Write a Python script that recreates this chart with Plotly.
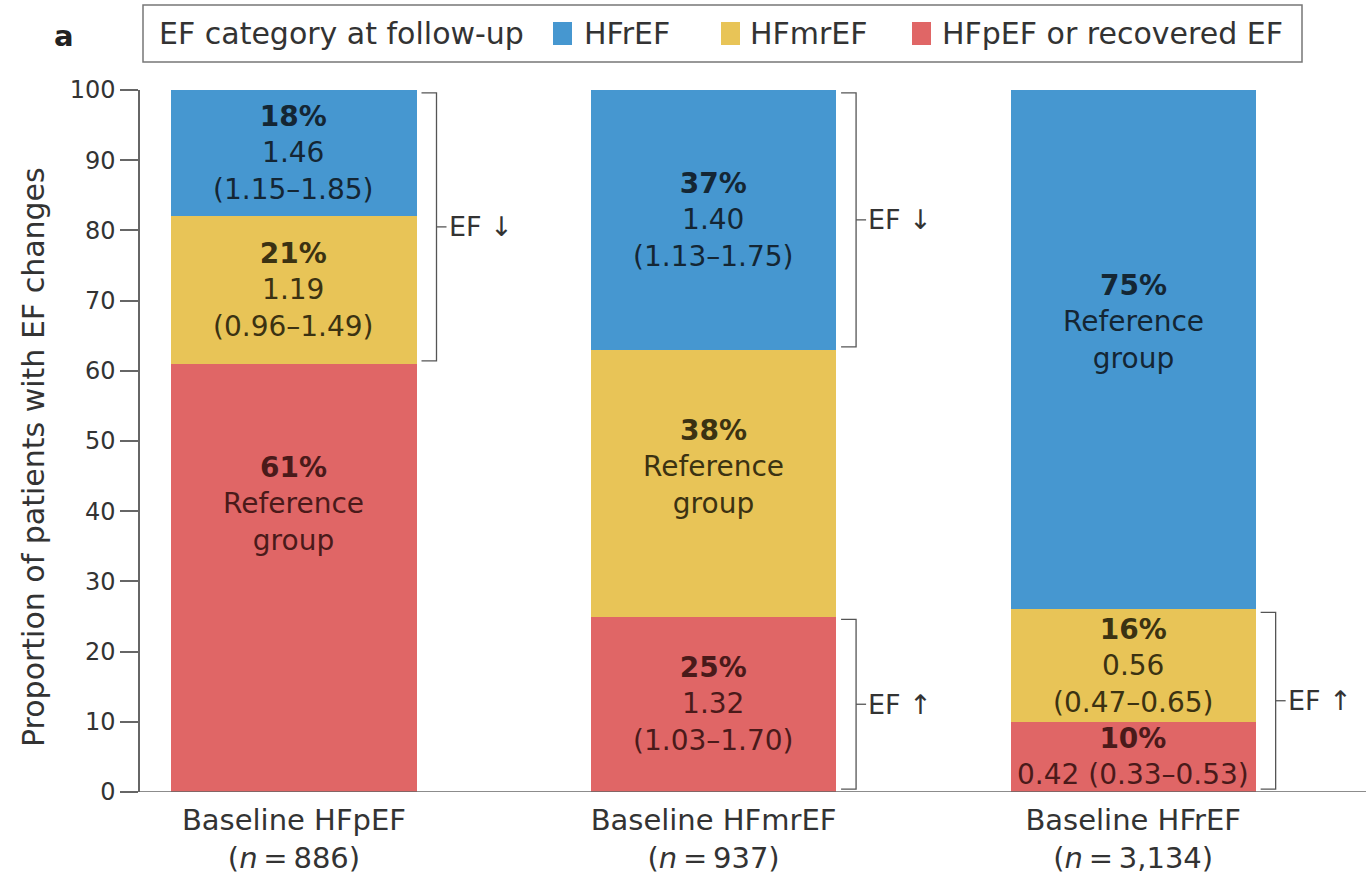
import plotly.graph_objects as go

# ---------------- data ----------------
categories = ["Baseline HFpEF<br>(<i>n</i>\u2009=\u2009886)",
              "Baseline HFmrEF<br>(<i>n</i>\u2009=\u2009937)",
              "Baseline HFrEF<br>(<i>n</i>\u2009=\u20093,134)"]
series_names = ["HFpEF or recovered EF", "HFmrEF", "HFrEF"]   # bottom -> top
red_vals = [61, 25, 10]
yellow_vals = [21, 38, 16]
blue_vals = [18, 37, 74]
red_pct = ["61%", "25%", "10%"]
yellow_pct = ["21%", "38%", "16%"]
blue_pct = ["18%", "37%", "75%"]
red_hr = ["Reference<br>group", "1.32<br>(1.03–1.70)", "0.42 (0.33–0.53)"]
yellow_hr = ["1.19<br>(0.96–1.49)", "Reference<br>group", "0.56<br>(0.47–0.65)"]
blue_hr = ["1.46<br>(1.15–1.85)", "1.40<br>(1.13–1.75)", "Reference<br>group"]
y_ticks = [0, 10, 20, 30, 40, 50, 60, 70, 80, 90, 100]
y_title = "Proportion of patients with EF changes"
legend_title = "EF category at follow-up"
# brackets: (bar index, first segment, last segment, label)
brackets = [(0, 1, 2, "EF ↓"), (1, 2, 2, "EF ↓"), (1, 0, 0, "EF ↑"), (2, 0, 1, "EF ↑")]

# ---------------- style ----------------
FONT = "DejaVu Sans"
colors = ["#e06666", "#e8c457", "#4697d0"]
text_colors = ["#4a1a1a", "#3b3212", "#142634"]
BAR_W = 0.584
XRANGE = [-0.367, 2.555]
L, T, B, W, H = 140, 90, 82, 1366, 874
PW, PH = W - L, H - T - B
PX_PER_UNIT = PW / (XRANGE[1] - XRANGE[0])
AXIS_COL = "#666666"
TXT = "#333333"


def px(xp):
    return (xp - L) / PW


def py(yp):
    return (H - B - yp) / PH


fig = go.Figure()
stack = [red_vals, yellow_vals, blue_vals]
pcts = [red_pct, yellow_pct, blue_pct]
hrs = [red_hr, yellow_hr, blue_hr]
for name, vals, col in zip(series_names, stack, colors):
    fig.add_trace(go.Bar(x=categories, y=vals, name=name, width=BAR_W,
                         marker=dict(color=col, line=dict(width=0)),
                         hoverinfo="skip", showlegend=False))

# in-bar labels
label_shift = {(0, 0): 74, (1, 1): 16, (2, 2): 28}   # pixel lift for reference-group labels
annotations = []
for bi in range(len(categories)):
    base = 0
    for si in range(3):
        h = stack[si][bi]
        centre = base + h / 2
        txt = f"<b>{pcts[si][bi]}</b><br>{hrs[si][bi]}"
        annotations.append(dict(x=bi, y=centre, xref="x", yref="y", text=txt,
                                showarrow=False, yshift=label_shift.get((bi, si), 0),
                                font=dict(family=FONT, size=28, color=text_colors[si]),
                                align="center"))
        base += h

shapes = []
for bi, s0, s1, lab in brackets:
    lo = sum(stack[k][bi] for k in range(s0))
    hi = sum(stack[k][bi] for k in range(s1 + 1))
    xe = bi + BAR_W / 2
    x_in = xe + 5 / PX_PER_UNIT
    x_v = xe + 20 / PX_PER_UNIT
    x_t = xe + 30 / PX_PER_UNIT
    lo_p = lo + 0.4
    hi_p = hi - 0.4
    mid = (lo + hi) / 2
    line = dict(color="#555555", width=1.3)
    shapes.append(dict(type="path", xref="x", yref="y",
                       path=f"M {x_in} {lo_p} L {x_v} {lo_p} L {x_v} {hi_p} L {x_in} {hi_p}",
                       line=line))
    shapes.append(dict(type="line", xref="x", yref="y", x0=x_v, x1=x_t, y0=mid, y1=mid, line=line))
    annotations.append(dict(x=x_t, y=mid, xref="x", yref="y", text=lab, showarrow=False,
                            xanchor="left", xshift=0,
                            font=dict(family=FONT, size=27, color=TXT)))

# legend (drawn as box + swatches + labels)
shapes.append(dict(type="rect", xref="paper", yref="paper", x0=px(143), x1=px(1302),
                   y0=py(62), y1=py(5), line=dict(color="#777777", width=1.5),
                   fillcolor="white", layer="above"))
annotations.append(dict(x=px(157), y=py(34), xref="paper", yref="paper", text=legend_title,
                        showarrow=False, xanchor="left", yanchor="middle",
                        font=dict(family=FONT, size=30, color=TXT)))
legend_items = [(2, 553, 582), (1, 721, 748), (0, 912, 940)]   # (series, swatch left, text left)
for si, sx, tx in legend_items:
    shapes.append(dict(type="rect", xref="paper", yref="paper", x0=px(sx), x1=px(sx + 19),
                       y0=py(45), y1=py(22), line=dict(width=0), fillcolor=colors[si],
                       layer="above"))
    annotations.append(dict(x=px(tx), y=py(34), xref="paper", yref="paper",
                            text=series_names[si], showarrow=False, xanchor="left",
                            yanchor="middle", font=dict(family=FONT, size=30, color=TXT)))

# y-axis title
annotations.append(dict(x=px(33), y=py(457), xref="paper", yref="paper", text=y_title,
                        showarrow=False, textangle=-90, xanchor="center", yanchor="middle",
                        font=dict(family=FONT, size=30, color=TXT)))

# panel letter
annotations.append(dict(x=px(64), y=py(36), xref="paper", yref="paper", text="<b>a</b>",
                        showarrow=False, xanchor="center", yanchor="middle",
                        font=dict(family=FONT, size=29, color="#222222")))

fig.update_layout(
    width=W, height=H,
    margin=dict(l=L, r=0, t=T, b=B),
    paper_bgcolor="white", plot_bgcolor="white",
    barmode="stack", bargap=0,
    font=dict(family=FONT, color=TXT),
    showlegend=False,
    xaxis=dict(range=XRANGE, showline=False, ticks="", showgrid=False, zeroline=False,
               ticklabelstandoff=8,
               tickfont=dict(family=FONT, size=29, color=TXT), fixedrange=True),
    yaxis=dict(range=[0, 100], tickvals=y_ticks, showline=True, linecolor=AXIS_COL, linewidth=1.5,
               ticks="outside", ticklen=18, tickcolor=AXIS_COL, tickwidth=1.5,
               showgrid=False, zeroline=False,
               tickfont=dict(family=FONT, size=24, color=TXT),
               fixedrange=True),
    shapes=shapes + [dict(type="line", xref="paper", yref="y", x0=0, x1=1, y0=0, y1=0,
                          line=dict(color=AXIS_COL, width=1.5))],
    annotations=annotations,
)

fig.write_html("out.html", config={"displayModeBar": False})
